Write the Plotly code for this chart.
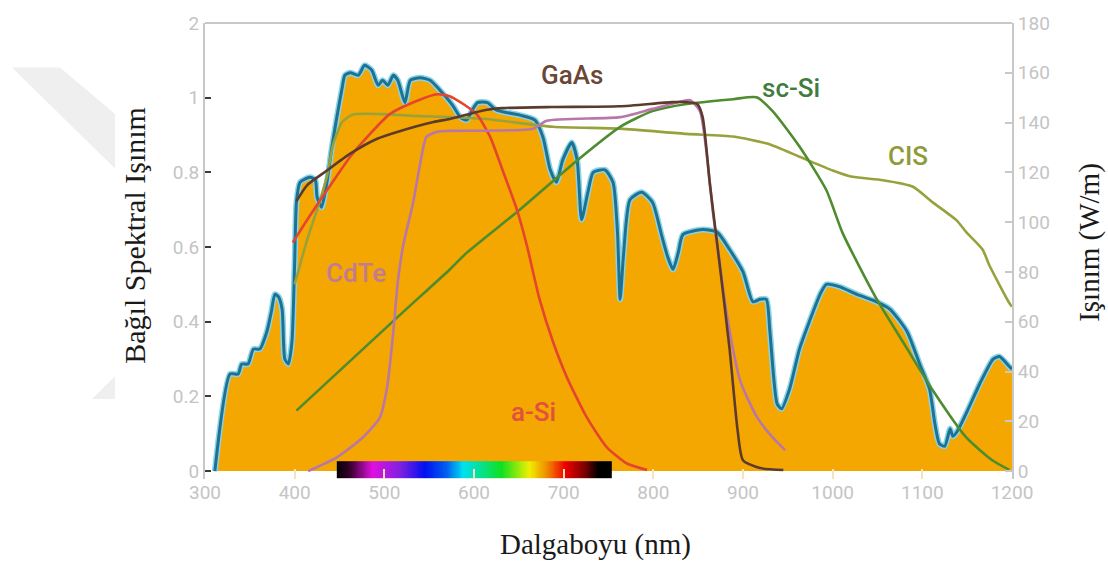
import numpy as np
import plotly.graph_objects as go

# ---- Solar spectrum (W/m) ----
spec_nm = [311, 328, 337, 341, 348, 354, 361, 369, 374, 378, 382, 386, 389, 393, 397,
           400, 402, 406, 417, 423, 425, 430, 436, 441, 447, 453, 456, 462, 471, 478,
           486, 493, 498, 504, 510, 515, 523, 529, 540, 551, 562, 576, 585, 592, 598,
           604, 615, 625, 651, 668, 677, 685, 692, 699, 709, 715, 720, 727, 733, 746,
           755, 760, 763, 767, 774, 787, 799, 809, 816, 822, 828, 833, 855, 871, 885,
           900, 911, 919, 926, 930, 938, 943, 952, 963, 974, 986, 993, 1008, 1027, 1049,
           1064, 1083, 1097, 1108, 1114, 1119, 1125, 1131, 1134, 1139, 1150, 1164, 1179,
           1186, 1197, 1200]
spec_wm = [0, 39, 39, 43, 43, 49, 49, 56, 64, 71, 70, 65, 45, 43, 52,
           84, 108, 116, 118, 117, 110, 106, 116, 129, 142, 154, 159, 160, 159, 163,
           161, 155, 157, 155, 159, 157, 148, 157, 158, 157, 153, 147, 142, 141, 145,
           148, 148, 145, 143, 141, 134, 121, 116, 125, 132, 125, 101, 112, 120, 121,
           116, 96, 69, 88, 109, 112, 108, 95, 86, 81, 88, 95, 97, 96, 89,
           80, 68, 69, 69, 56, 27, 25, 33, 49, 60, 71, 75, 74, 71, 68,
           65, 56, 43, 33, 19, 11, 10, 17, 14, 16, 24, 35, 45,
           46, 42, 41]

# ---- Relative spectral response of the cells ----
gaas_nm = [402, 414, 436, 462, 492, 518, 555, 573, 613, 631, 687, 762, 821, 837, 849,
           855, 863, 872, 885, 894, 900, 919, 945]
gaas_r = [0.723, 0.766, 0.805, 0.850, 0.890, 0.911, 0.935, 0.943, 0.967, 0.972, 0.975,
          0.977, 0.988, 0.988, 0.983, 0.948, 0.77, 0.593, 0.328, 0.109, 0.029, 0.008, 0.003]

asi_nm = [398, 414, 436, 462, 481, 506, 536, 559, 573, 588, 603, 618, 632, 648, 659,
          673, 688, 704, 726, 748, 770, 793]
asi_r = [0.612, 0.673, 0.752, 0.842, 0.895, 0.956, 0.991, 1.009, 1.004, 0.983, 0.956,
         0.895, 0.805, 0.699, 0.604, 0.461, 0.347, 0.249, 0.143, 0.064, 0.021, 0.003]

cdte_nm = [415, 447, 476, 495, 503, 510, 515, 521, 532, 540, 547, 559, 573, 666, 681,
           763, 799, 833, 841, 852, 867, 882, 897, 916, 933, 947]
cdte_r = [0.0, 0.037, 0.090, 0.143, 0.223, 0.373, 0.506, 0.604, 0.718, 0.824, 0.895,
          0.909, 0.911, 0.917, 0.938, 0.948, 0.970, 0.991, 0.993, 0.964, 0.683, 0.419,
          0.241, 0.143, 0.090, 0.056]

scsi_nm = [402, 515, 573, 592, 651, 715, 763, 799, 837, 889, 915, 933, 963, 993, 1011,
           1049, 1083, 1112, 1149, 1178, 1197]
scsi_r = [0.162, 0.413, 0.540, 0.585, 0.700, 0.832, 0.922, 0.964, 0.983, 0.996, 1.001,
          0.964, 0.869, 0.752, 0.638, 0.461, 0.328, 0.215, 0.090, 0.029, 0.003]

cis_nm = [400, 414, 425, 436, 443, 453, 465, 498, 536, 573, 614, 688, 763, 837, 889,
          927, 963, 1000, 1022, 1056, 1089, 1112, 1138, 1149, 1167, 1175, 1197, 1200]
cis_r = [0.50, 0.62, 0.70, 0.79, 0.875, 0.935, 0.955, 0.956, 0.951, 0.948, 0.943, 0.922,
         0.917, 0.903, 0.896, 0.877, 0.842, 0.805, 0.788, 0.779, 0.762, 0.719, 0.672,
         0.640, 0.594, 0.550, 0.450, 0.440]

# ---- Axis ticks ----
x_ticks = [300, 400, 500, 600, 700, 800, 900, 1000, 1100, 1200]
left_tickvals = [0, 0.2, 0.4, 0.6, 0.8, 1.0, 1.2]
left_ticktext = ["0", "0.2", "0.4", "0.6", "0.8", "1", "2"]
right_ticks = [0, 20, 40, 60, 80, 100, 120, 140, 160, 180]

# visible band shown under the axis
band_nm = [447, 754]
band_stops = [(0.00, "#000000"), (0.05, "#3a0030"), (0.13, "#e010e0"), (0.23, "#8020e0"),
              (0.32, "#0010f0"), (0.40, "#0060f0"), (0.46, "#00e0f0"), (0.60, "#10e020"),
              (0.70, "#f0f000"), (0.77, "#f08000"), (0.83, "#f00000"), (0.90, "#800000"),
              (0.95, "#000000"), (1.00, "#000000")]

FILL = "#F4A700"
TICK_FONT = dict(family="Roboto, Liberation Sans", size=19, color="#c4c4c4")
LABEL_FONT = "Roboto, Liberation Sans"

fig = go.Figure()

# spectrum: orange area with a light halo and teal outline
fig.add_trace(go.Scatter(x=spec_nm, y=spec_wm, yaxis="y", mode="lines",
                         line=dict(color="#86d3ea", width=6, shape="spline", smoothing=0.6),
                         fill="tozeroy", fillcolor=FILL, hoverinfo="skip", showlegend=False))
fig.add_trace(go.Scatter(x=spec_nm, y=spec_wm, yaxis="y", mode="lines",
                         line=dict(color="#20718f", width=3, shape="spline", smoothing=0.6),
                         showlegend=False))

# visible-light colour band
bx = np.arange(band_nm[0], band_nm[1] + 1, 1.0)
fig.add_trace(go.Heatmap(x=bx, y=[-0.0185, 0.0265], z=[list((bx[:-1] + bx[1:]) / 2)],
                         xaxis="x", yaxis="y2", colorscale=[[s, c] for s, c in band_stops],
                         zmin=band_nm[0], zmax=band_nm[1], showscale=False, hoverinfo="skip"))

cells = [
    ("CIS", cis_nm, cis_r, "#97a23c"),
    ("sc-Si", scsi_nm, scsi_r, "#4f8b2f"),
    ("a-Si", asi_nm, asi_r, "#e5452e"),
    ("CdTe", cdte_nm, cdte_r, "#b977a8"),
    ("GaAs", gaas_nm, gaas_r, "#5c3b2e"),
]
for name, xs, ys, col in cells:
    fig.add_trace(go.Scatter(x=xs, y=ys, yaxis="y2", mode="lines", name=name,
                             line=dict(color=col, width=2.6, shape="spline", smoothing=0.6),
                             showlegend=False))

# curve labels
labels = [
    ("GaAs", 709, 1.062, "#6a4636"),
    ("sc-Si", 954, 1.027, "#3f7d3f"),
    ("CIS", 1084, 0.844, "#8f9a3a"),
    ("CdTe", 468, 0.531, "#c27c90"),
    ("a-Si", 666, 0.159, "#e2503e"),
]
for txt, lx, ly, col in labels:
    fig.add_annotation(x=lx, y=ly, xref="x", yref="y2", text=txt, showarrow=False,
                       xanchor="center", yanchor="middle",
                       font=dict(family=LABEL_FONT, size=26, color=col, weight=500))

# axis titles
serif = "Liberation Serif, DejaVu Serif"
fig.add_annotation(x=-0.0867, y=0.5336, xref="paper", yref="paper", text="Bağıl Spektral Işınım",
                   textangle=-90, showarrow=False, xanchor="center", yanchor="middle",
                   font=dict(family=serif, size=30, color="#1a1a1a"))
fig.add_annotation(x=1.0967, y=0.518, xref="paper", yref="paper", text="Işınım (W/m)",
                   textangle=-90, showarrow=False, xanchor="center", yanchor="middle",
                   font=dict(family=serif, size=29, color="#1a1a1a"))
fig.add_annotation(x=0.4833, y=-0.1432, xref="paper", yref="paper", text="Dalgaboyu (nm)",
                   showarrow=False, xanchor="center", yanchor="middle",
                   font=dict(family=serif, size=29, color="#1a1a1a"))

# faint background emblem at the left
shapes = [
    dict(type="path", xref="paper", yref="paper", layer="below",
         path="M -0.2392 0.9024 L -0.1797 0.9024 L -0.1115 0.8004 L -0.1115 0.6811 Z",
         fillcolor="#efefef", line=dict(width=0)),
    dict(type="path", xref="paper", yref="paper", layer="below",
         path="M -0.1400 0.1757 L -0.1115 0.2256 L -0.1115 0.1757 Z",
         fillcolor="#efefef", line=dict(width=0)),
    # top frame line
    dict(type="line", xref="paper", yref="paper", x0=0, x1=1, y0=1, y1=1,
         line=dict(color="#c8c8c8", width=2)),
]

fig.update_layout(
    width=1108, height=568,
    margin=dict(l=205, r=96, t=18, b=89),
    paper_bgcolor="white", plot_bgcolor="white",
    shapes=shapes,
    xaxis=dict(range=[300, 1200], tickvals=x_ticks, ticks="inside", ticklen=10, tickwidth=2,
               tickcolor="#f7e3bb", showgrid=False, zeroline=False, showline=False,
               tickfont=TICK_FONT),
    yaxis=dict(side="right", range=[-3.18, 180], tickvals=right_ticks, ticks="inside",
               ticklen=7, tickwidth=2, tickcolor="#c8c8c8", showgrid=False, zeroline=False,
               showline=True, linecolor="#c8c8c8", linewidth=2, tickfont=TICK_FONT),
    yaxis2=dict(side="left", overlaying="y", range=[-0.0212, 1.2], tickvals=left_tickvals,
                ticktext=left_ticktext, ticks="inside", ticklen=6, tickwidth=2,
                tickcolor="#3a3a3a", showgrid=False, zeroline=False, showline=True,
                linecolor="#c8c8c8", linewidth=2, tickfont=TICK_FONT),
)

fig.write_html("out.html")
